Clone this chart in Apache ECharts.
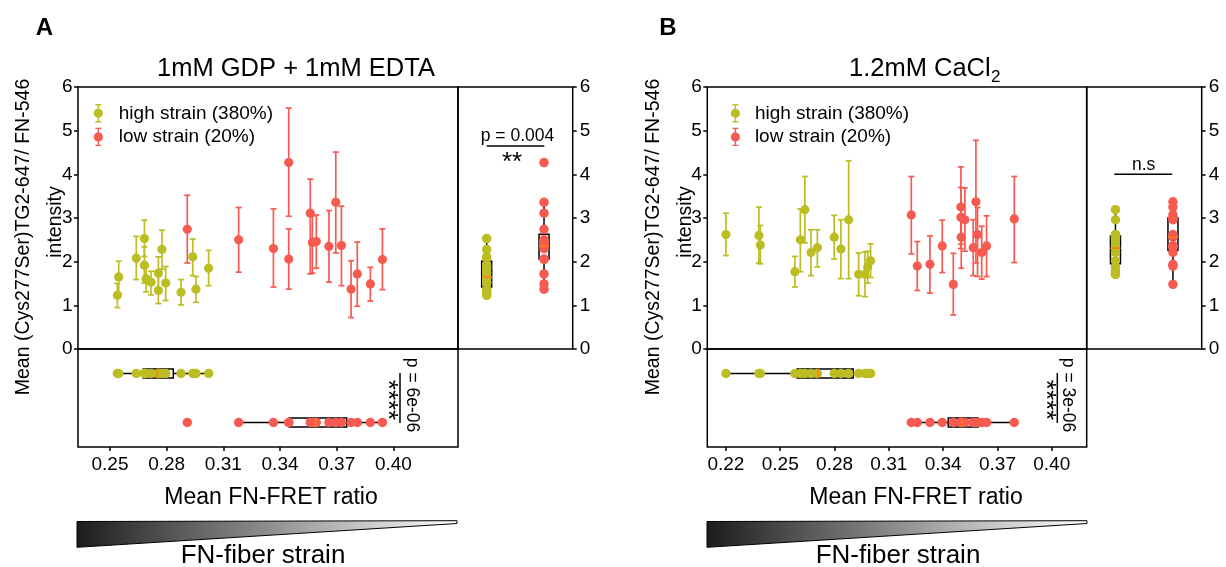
<!DOCTYPE html>
<html><head><meta charset="utf-8">
<script src="https://cdn.jsdelivr.net/npm/echarts@6/dist/echarts.min.js"></script>
<style>html,body{margin:0;padding:0;background:#fff}#c{width:1226px;height:567px}</style>
</head><body><div id="c"></div>
<script>
// ---------- DATA ----------
const groupNames = ['high strain (380%)', 'low strain (20%)'];
const stripCats = ['high', 'low'];
const xTicksA = [0.25, 0.28, 0.31, 0.34, 0.37, 0.40];
const xTicksB = [0.22, 0.25, 0.28, 0.31, 0.34, 0.37, 0.40];
const yTicks = [0, 1, 2, 3, 4, 5, 6];

// Panel A: 1mM GDP + 1mM EDTA
const aHighX  = [0.2539,0.2546,0.2639,0.2682,0.2682,0.2691,0.2717,0.2756,0.2756,0.2775,0.2795,0.2876,0.2938,0.2955,0.3022];
const aHighY  = [1.23,1.65,2.08,2.53,1.92,1.61,1.53,1.74,1.34,2.28,1.51,1.30,2.11,1.37,1.85];
const aHighLo = [0.95,1.28,1.59,2.12,1.51,1.31,1.24,1.40,1.04,1.83,1.11,1.01,1.68,1.07,1.45];
const aHighHi = [1.50,2.01,2.58,2.95,2.34,1.89,1.78,2.11,1.66,2.72,1.89,1.59,2.52,1.66,2.26];
const aLowX   = [0.2909,0.3181,0.3365,0.3446,0.3446,0.3560,0.3571,0.3592,0.3659,0.3695,0.3725,0.3776,0.3809,0.3878,0.3942];
const aLowY   = [2.74,2.50,2.30,4.27,2.06,3.11,2.44,2.46,2.35,3.36,2.37,1.37,1.72,1.49,2.05];
const aLowLo  = [1.97,1.76,1.42,3.04,1.37,1.72,1.74,1.85,1.53,2.20,1.45,0.72,0.98,1.10,1.36];
const aLowHi  = [3.52,3.24,3.21,5.52,2.75,3.89,3.05,3.07,3.17,4.51,3.27,2.02,2.45,1.87,2.75];
// box stats [min, q1, median, q3, max]
const aBoxYHigh = [1.23,1.42,1.65,2.01,2.53];
const aBoxYLow  = [1.37,2.06,2.37,2.63,3.36];
const aBoxXHigh = [0.2539,0.2676,0.2750,0.2835,0.3022];
const aBoxXLow  = [0.3181,0.3449,0.3589,0.3753,0.3942];

// Panel B: 1.2mM CaCl2
const bHighX  = [0.2200,0.2382,0.2390,0.2581,0.2611,0.2636,0.2670,0.2705,0.2798,0.2835,0.2878,0.2933,0.2968,0.2983,0.2999];
const bHighY  = [2.62,2.60,2.38,1.77,2.50,3.19,2.21,2.32,2.56,2.29,2.96,1.71,1.71,1.87,2.02];
const bHighLo = [2.14,1.97,1.95,1.42,1.77,2.43,1.68,1.88,2.06,1.61,1.61,1.22,1.20,1.51,1.64];
const bHighHi = [3.11,3.25,2.83,2.12,3.21,3.95,2.73,2.73,3.06,2.96,4.31,2.20,2.22,2.24,2.41];
const bLowX   = [0.3224,0.3257,0.3327,0.3395,0.3456,0.3498,0.3498,0.3500,0.3520,0.3566,0.3581,0.3590,0.3613,0.3640,0.3793];
const bLowY   = [3.07,1.90,1.94,2.36,1.48,3.25,3.01,2.56,2.96,2.32,3.37,2.62,2.21,2.36,2.98];
const bLowLo  = [2.18,1.34,1.28,1.75,0.78,2.40,2.30,1.85,2.24,1.68,1.97,1.66,1.60,1.66,1.98];
const bLowHi  = [3.95,2.46,2.59,2.95,2.19,4.17,3.70,3.09,3.69,2.96,4.78,3.24,2.81,3.05,3.95];
const bBoxYHigh = [1.71,1.95,2.31,2.59,3.19];
const bBoxYLow  = [1.48,2.26,2.56,3.00,3.37];
const bBoxXHigh = [0.2200,0.2594,0.2710,0.2903,0.2999];
const bBoxXLow  = [0.3224,0.3428,0.3504,0.3594,0.3793];

// ---------- STYLE ----------
const FONT = '"Liberation Sans", Arial, sans-serif';
const C_HIGH = '#bcbd22', C_LOW = '#f65a50', C_MED = '#ff7f0e';
const ICON = 'path://M2,0H8V1.4H2ZM4.3,0H5.7V18.4H4.3ZM2,17H8V18.4H2ZM0.4,9.2A4.6,4.6 0 1 1 9.6,9.2A4.6,4.6 0 1 1 0.4,9.2Z';

const chart = echarts.init(document.getElementById('c'), null, {renderer: 'canvas'});

function errRender(color) {
  return function (params, api) {
    const x = api.value(0), y = api.value(1), lo = api.value(2), hi = api.value(3);
    const p = api.coord([x, y]), pl = api.coord([x, lo]), ph = api.coord([x, hi]);
    const cw = 3, st = {stroke: color, lineWidth: 1.7};
    return {type: 'group', children: [
      {type: 'line', shape: {x1: p[0], y1: ph[1], x2: p[0], y2: pl[1]}, style: st},
      {type: 'line', shape: {x1: p[0] - cw, y1: ph[1], x2: p[0] + cw, y2: ph[1]}, style: st},
      {type: 'line', shape: {x1: p[0] - cw, y1: pl[1], x2: p[0] + cw, y2: pl[1]}, style: st},
      {type: 'circle', shape: {cx: p[0], cy: p[1], r: 4.6}, style: {fill: color}}
    ]};
  };
}
function boxRender(horizontal) {
  return function (params, api) {
    const c = api.value(0);
    const v = [1, 2, 3, 4, 5].map(i => api.value(i));
    const P = val => horizontal ? api.coord([val, c]) : api.coord([c, val]);
    const pts = v.map(P);
    const st = {stroke: '#000', lineWidth: 1.5};
    const half = horizontal ? 4.5 : 5;
    if (horizontal) {
      const cy = pts[0][1];
      return {type: 'group', children: [
        {type: 'line', shape: {x1: pts[0][0], y1: cy, x2: pts[1][0], y2: cy}, style: st},
        {type: 'line', shape: {x1: pts[3][0], y1: cy, x2: pts[4][0], y2: cy}, style: st},
        {type: 'rect', shape: {x: pts[1][0], y: cy - half, width: pts[3][0] - pts[1][0], height: 2 * half}, style: {fill: '#fff', stroke: '#000', lineWidth: 1.5}}
      ]};
    }
    const cx = pts[0][0];
    return {type: 'group', children: [
      {type: 'line', shape: {x1: cx, y1: pts[0][1], x2: cx, y2: pts[1][1]}, style: st},
      {type: 'line', shape: {x1: cx, y1: pts[3][1], x2: cx, y2: pts[4][1]}, style: st},
      {type: 'rect', shape: {x: cx - half, y: pts[3][1], width: 2 * half, height: pts[1][1] - pts[3][1]}, style: {fill: '#fff', stroke: '#000', lineWidth: 1.5}}
    ]};
  };
}
function medRender(horizontal) {
  return function (params, api) {
    const c = api.value(0), m = api.value(3);
    const p = horizontal ? api.coord([m, c]) : api.coord([c, m]);
    const st = {stroke: C_MED, lineWidth: 1.6};
    return horizontal
      ? {type: 'line', shape: {x1: p[0], y1: p[1] - 4.5, x2: p[0], y2: p[1] + 4.5}, style: st}
      : {type: 'line', shape: {x1: p[0] - 5, y1: p[1], x2: p[0] + 5, y2: p[1]}, style: st};
  };
}
const zip4 = (a, b, c, d) => a.map((v, i) => [v, b[i], c[i], d[i]]);

const grids = [
  {left: 78, top: 87, width: 380, height: 262},
  {left: 458, top: 87, width: 114.7, height: 262},
  {left: 78, top: 349, width: 380, height: 98},
  {left: 707.3, top: 87, width: 379.4, height: 262},
  {left: 1086.7, top: 87, width: 115, height: 262},
  {left: 707.3, top: 349, width: 379.4, height: 98}
].map(g => Object.assign({show: true, borderColor: '#000', borderWidth: 1.5, backgroundColor: 'transparent'}, g));

const hidden = {axisLine: {show: false}, axisTick: {show: false}, axisLabel: {show: false}, splitLine: {show: false}};
const tickStyle = {show: true, length: 4, lineStyle: {color: '#000', width: 1.5}};
const lab = {fontSize: 19, fontFamily: FONT, color: '#000'};
const xr = {A: [0.23306, 0.4342], B: [0.2097, 0.4193]};

function xValueAxis(gi, r, ticks, show) {
  if (!show) return Object.assign({type: 'value', gridIndex: gi, min: r[0], max: r[1]}, hidden);
  return {type: 'value', gridIndex: gi, min: r[0], max: r[1], splitLine: {show: false},
    axisLine: {show: false},
    axisTick: Object.assign({customValues: ticks}, tickStyle),
    axisLabel: Object.assign({customValues: ticks, margin: 8, formatter: v => v.toFixed(2)}, lab)};
}
function yValueAxis(gi, pos, show) {
  if (!show) return Object.assign({type: 'value', gridIndex: gi, min: 0, max: 6, interval: 1}, hidden);
  return {type: 'value', gridIndex: gi, position: pos, min: 0, max: 6, interval: 1, splitLine: {show: false},
    axisLine: {show: false}, axisTick: tickStyle,
    axisLabel: Object.assign({margin: pos === 'left' ? 5.5 : 7, formatter: v => String(v)}, lab)};
}
const catAxis = (gi, inv) => Object.assign({type: 'category', gridIndex: gi, data: stripCats, inverse: !!inv, boundaryGap: true}, hidden);

const xAxis = [
  xValueAxis(0, xr.A, xTicksA, false), catAxis(1), xValueAxis(2, xr.A, xTicksA, true),
  xValueAxis(3, xr.B, xTicksB, false), catAxis(4), xValueAxis(5, xr.B, xTicksB, true)
];
const yAxis = [
  yValueAxis(0, 'left', true), yValueAxis(1, 'right', true), catAxis(2, true),
  yValueAxis(3, 'left', true), yValueAxis(4, 'right', true), catAxis(5, true)
];

function panelSeries(base, hx, hy, hlo, hhi, lx, ly, llo, lhi, bYH, bYL, bXH, bXL) {
  const g = base;
  return [
    {type: 'custom', name: groupNames[0], xAxisIndex: g, yAxisIndex: g, itemStyle: {color: C_HIGH},
     renderItem: errRender(C_HIGH), data: zip4(hx, hy, hlo, hhi), encode: {x: 0, y: [1, 2, 3]}, z: 2},
    {type: 'custom', name: groupNames[1], xAxisIndex: g, yAxisIndex: g, itemStyle: {color: C_LOW},
     renderItem: errRender(C_LOW), data: zip4(lx, ly, llo, lhi), encode: {x: 0, y: [1, 2, 3]}, z: 3},
    // right marginal (y strip)
    {type: 'custom', name: 'boxY' + g, xAxisIndex: g + 1, yAxisIndex: g + 1, renderItem: boxRender(false),
     data: [[0].concat(bYH), [1].concat(bYL)], encode: {x: 0, y: [1, 2, 3, 4, 5]}, z: 2},
    {type: 'scatter', name: 'stripYH' + g, xAxisIndex: g + 1, yAxisIndex: g + 1, symbolSize: 9.5,
     itemStyle: {color: C_HIGH, opacity: 1}, data: hy.map(v => [0, v]), z: 3},
    {type: 'scatter', name: 'stripYL' + g, xAxisIndex: g + 1, yAxisIndex: g + 1, symbolSize: 9.5,
     itemStyle: {color: C_LOW, opacity: 1}, data: ly.map(v => [1, v]), z: 3},
    {type: 'custom', name: 'medY' + g, xAxisIndex: g + 1, yAxisIndex: g + 1, renderItem: medRender(false),
     data: [[0].concat(bYH), [1].concat(bYL)], encode: {x: 0, y: [1, 2, 3, 4, 5]}, z: 4},
    // bottom marginal (x strip)
    {type: 'custom', name: 'boxX' + g, xAxisIndex: g + 2, yAxisIndex: g + 2, renderItem: boxRender(true),
     data: [[0].concat(bXH), [1].concat(bXL)], encode: {y: 0, x: [1, 2, 3, 4, 5]}, z: 2},
    {type: 'scatter', name: 'stripXH' + g, xAxisIndex: g + 2, yAxisIndex: g + 2, symbolSize: 9.5,
     itemStyle: {color: C_HIGH, opacity: 1}, data: hx.map(v => [v, 0]), z: 3},
    {type: 'scatter', name: 'stripXL' + g, xAxisIndex: g + 2, yAxisIndex: g + 2, symbolSize: 9.5,
     itemStyle: {color: C_LOW, opacity: 1}, data: lx.map(v => [v, 1]), z: 3},
    {type: 'custom', name: 'medX' + g, xAxisIndex: g + 2, yAxisIndex: g + 2, renderItem: medRender(true),
     data: [[0].concat(bXH), [1].concat(bXL)], encode: {y: 0, x: [1, 2, 3, 4, 5]}, z: 4}
  ];
}

const series = [].concat(
  panelSeries(0, aHighX, aHighY, aHighLo, aHighHi, aLowX, aLowY, aLowLo, aLowHi, aBoxYHigh, aBoxYLow, aBoxXHigh, aBoxXLow),
  panelSeries(3, bHighX, bHighY, bHighLo, bHighHi, bLowX, bLowY, bLowLo, bLowHi, bBoxYHigh, bBoxYLow, bBoxXHigh, bBoxXLow)
);

const legendBase = {
  data: groupNames.map(n => ({name: n, icon: ICON})), orient: 'vertical', top: 98.8,
  itemHeight: 18.4, itemGap: 4.6, selectedMode: false, symbolKeepAspect: true,
  itemStyle: {borderWidth: 0},
  textStyle: {fontSize: 19, fontFamily: FONT, color: '#000', lineHeight: 19}
};
const legend = [
  Object.assign({}, legendBase, {left: 88.7, itemWidth: 31}),
  Object.assign({}, legendBase, {left: 725.8, itemWidth: 29})
];

function txt(t, x, y, size, opts) {
  return Object.assign({type: 'text', x: x, y: y, silent: true,
    style: Object.assign({text: t, fontSize: size, fontFamily: FONT, fill: '#000', align: 'center', verticalAlign: 'middle'}, (opts && opts.style) || {})},
    (opts && opts.rotation !== undefined) ? {rotation: opts.rotation} : {});
}
function hline(x1, x2, y) { return {type: 'line', silent: true, shape: {x1: x1, y1: y, x2: x2, y2: y}, style: {stroke: '#000', lineWidth: 1.5}}; }
function vline(x, y1, y2) { return {type: 'line', silent: true, shape: {x1: x, y1: y1, x2: x, y2: y2}, style: {stroke: '#000', lineWidth: 1.5}}; }
function tri(x0) {
  return {type: 'polygon', silent: true,
    shape: {points: [[x0, 521.5], [x0 + 380, 520.7], [x0 + 380, 523.5], [x0, 547.3]]},
    style: {stroke: '#000', lineWidth: 1,
      fill: new echarts.graphic.LinearGradient(0, 0, 1, 0, [{offset: 0, color: '#1c1c1c'}, {offset: 1, color: '#ffffff'}])}};
}

const graphic = [
  // panel letters
  txt('A', 44.5, 28, 24, {style: {fontWeight: 'bold'}}),
  txt('B', 668, 28, 24, {style: {fontWeight: 'bold'}}),
  // titles
  txt('1mM GDP + 1mM EDTA', 296, 69, 25.5),
  txt('1.2mM CaCl', 849, 69, 25.5, {style: {align: 'left'}}),
  txt('2', 991, 77, 17, {style: {align: 'left'}}),
  // y labels
  txt('Mean (Cys277Ser)TG2-647/ FN-546', 24, 237, 19.5, {rotation: Math.PI / 2}),
  txt('intensity', 56, 222, 19.5, {rotation: Math.PI / 2}),
  txt('Mean (Cys277Ser)TG2-647/ FN-546', 654, 237, 19.5, {rotation: Math.PI / 2}),
  txt('intensity', 686, 222, 19.5, {rotation: Math.PI / 2}),
  // x labels
  txt('Mean FN-FRET ratio', 271, 498, 23),
  txt('Mean FN-FRET ratio', 916, 498, 23),
  // strain triangles
  tri(77), tri(707),
  txt('FN-fiber strain', 263, 556, 26),
  txt('FN-fiber strain', 898, 556, 26),
  // significance annotations
  txt('p = 0.004', 517.5, 136, 17.5),
  hline(486.7, 544.3, 146),
  txt('**', 512, 162.5, 26),
  txt('n.s', 1143.7, 165, 17.5),
  hline(1114.3, 1172.3, 174.3),
  txt('p = 6e-06', 411.5, 395, 17.5, {rotation: -Math.PI / 2}),
  vline(400, 373, 423),
  txt('****', 387.5, 400, 26, {rotation: -Math.PI / 2}),
  txt('p = 3e-06', 1067.5, 395, 17.5, {rotation: -Math.PI / 2}),
  vline(1057.3, 373, 423),
  txt('****', 1045.5, 400, 26, {rotation: -Math.PI / 2})
];

chart.setOption({
  animation: false,
  backgroundColor: '#fff',
  textStyle: {fontFamily: FONT},
  grid: grids, xAxis: xAxis, yAxis: yAxis, legend: legend, series: series, graphic: graphic
});
</script></body></html>
